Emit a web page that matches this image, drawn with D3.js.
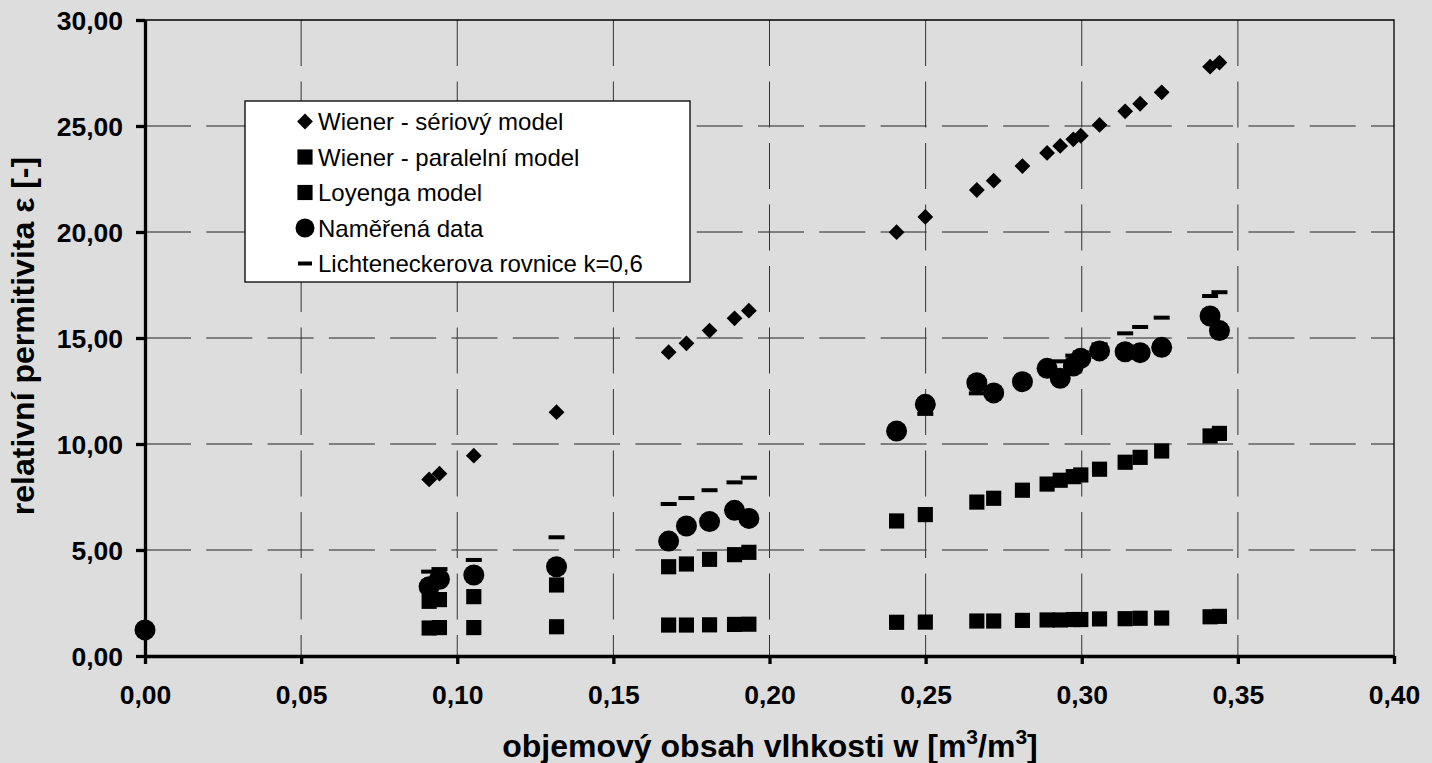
<!DOCTYPE html>
<html>
<head>
<meta charset="utf-8">
<script src="https://cdn.jsdelivr.net/npm/d3@7"></script>
<style>
  body { margin: 0; background: #dddddd; }
  svg { display: block; font-family: Arial, "Liberation Sans", sans-serif; }
</style>
</head>
<body>
<div id="chart"></div>
<script>
// moisture content w [m3/m3], shared by all series
const moisture = [0, 0.0910, 0.0943, 0.1053, 0.1318, 0.1677, 0.1734, 0.1808, 0.1888, 0.1934,
    0.2407, 0.2499, 0.2664, 0.2718, 0.2810, 0.2889, 0.2931, 0.2973, 0.2997, 0.3057,
    0.3139, 0.3187, 0.3256, 0.3411, 0.3441];

const wienerSerial = [null, 8.33, 8.60, 9.45, 11.50, 14.33, 14.75, 15.35, 15.93, 16.29,
    19.99, 20.71, 21.98, 22.42, 23.11, 23.73, 24.06, 24.37, 24.54, 25.05,
    25.69, 26.05, 26.59, 27.80, 27.99];

const wienerParallel = [null, 1.32, 1.34, 1.34, 1.38, 1.46, 1.46, 1.47, 1.49, 1.50,
    1.59, 1.60, 1.65, 1.65, 1.68, 1.70, 1.70, 1.72, 1.72, 1.75,
    1.76, 1.78, 1.79, 1.85, 1.87];

const loyenga = [null, 2.58, 2.66, 2.80, 3.35, 4.21, 4.34, 4.56, 4.78, 4.89,
    6.37, 6.67, 7.26, 7.44, 7.82, 8.11, 8.29, 8.46, 8.54, 8.81,
    9.14, 9.37, 9.67, 10.38, 10.50];

const measured = [1.23, 3.27, 3.62, 3.82, 4.21, 5.42, 6.13, 6.34, 6.87, 6.49,
    10.61, 11.87, 12.89, 12.41, 12.94, 13.57, 13.10, 13.68, 14.04, 14.39,
    14.35, 14.31, 14.56, 16.04, 15.35];

const lichtenecker = [null, 3.98, 4.10, 4.53, 5.60, 7.17, 7.45, 7.82, 8.19, 8.41,
    10.85, 11.42, 12.39, 12.62, 13.15, 13.64, 13.90, 14.17, 14.32, 14.70,
    15.22, 15.52, 15.96, 16.98, 17.16];

const seriesNames = ["Wiener - sériový model", "Wiener - paralelní model", "Loyenga model",
    "Naměřená data", "Lichteneckerova rovnice k=0,6"];

const xTicks = [0, 0.05, 0.10, 0.15, 0.20, 0.25, 0.30, 0.35, 0.40];
const xTickLabels = ["0,00", "0,05", "0,10", "0,15", "0,20", "0,25", "0,30", "0,35", "0,40"];
const yTicks = [0, 5, 10, 15, 20, 25, 30];
const yTickLabels = ["0,00", "5,00", "10,00", "15,00", "20,00", "25,00", "30,00"];

const width = 1432;
const height = 763;

const svg = d3.select('#chart')
    .append('svg')
    .attr('width', width)
    .attr('height', height);

svg.append('rect')
    .attr('width', width)
    .attr('height', height)
    .attr('fill', '#dddddd');

const x = d3.scaleLinear().domain([0, 0.4]).range([145, 1394]);
const y = d3.scaleLinear().domain([0, 30]).range([656, 20]);

// grid lines (dashed)
const grid = svg.append('g');
grid.selectAll('.hgrid')
    .data(yTicks.slice(1, -1))
    .enter()
    .append('line')
    .attr('x1', x(0)).attr('x2', x(0.4))
    .attr('y1', d => y(d)).attr('y2', d => y(d))
    .attr('stroke', '#222')
    .attr('stroke-width', 1)
    .attr('stroke-dasharray', '46,15.3');

grid.selectAll('.vgrid')
    .data(xTicks.slice(1, -1))
    .enter()
    .append('line')
    .attr('x1', d => x(d)).attr('x2', d => x(d))
    .attr('y1', y(30)).attr('y2', y(0))
    .attr('stroke', '#333')
    .attr('stroke-width', 1)
    .attr('stroke-dasharray', '46,15.5');

// plot border top / right
svg.append('path')
    .attr('d', `M${x(0)},${y(30)}H${x(0.4)}V${y(0)}`)
    .attr('fill', 'none')
    .attr('stroke', '#000')
    .attr('stroke-width', 1.3);

// markers
const diamond = d3.symbol(d3.symbolSquare, 125);
const square = d3.symbol(d3.symbolSquare, 230);

function points(values) {
    return moisture.map((w, i) => ({ w, v: values[i] })).filter(d => d.v != null);
}

const marks = svg.append('g');

marks.selectAll('.ser')
    .data(points(wienerSerial))
    .enter()
    .append('path')
    .attr('d', diamond)
    .attr('transform', d => `translate(${x(d.w)},${y(d.v)}) rotate(45)`)
    .attr('fill', '#000');

marks.selectAll('.par')
    .data(points(wienerParallel))
    .enter()
    .append('path')
    .attr('d', square)
    .attr('transform', d => `translate(${x(d.w)},${y(d.v)})`)
    .attr('fill', '#000');

marks.selectAll('.loy')
    .data(points(loyenga))
    .enter()
    .append('path')
    .attr('d', square)
    .attr('transform', d => `translate(${x(d.w)},${y(d.v)})`)
    .attr('fill', '#000');

marks.selectAll('.mea')
    .data(points(measured))
    .enter()
    .append('circle')
    .attr('cx', d => x(d.w))
    .attr('cy', d => y(d.v))
    .attr('r', 10.5)
    .attr('fill', '#000');

marks.selectAll('.lic')
    .data(points(lichtenecker))
    .enter()
    .append('rect')
    .attr('x', d => x(d.w) - 8)
    .attr('y', d => y(d.v) - 2)
    .attr('width', 16)
    .attr('height', 4)
    .attr('fill', '#000');

// axes
const yAxis = d3.axisLeft(y)
    .tickValues(yTicks)
    .tickSize(9)
    .tickSizeOuter(0)
    .tickPadding(13)
    .tickFormat((d, i) => yTickLabels[i]);

const xAxis = d3.axisBottom(x)
    .tickValues(xTicks)
    .tickSize(8)
    .tickSizeOuter(0)
    .tickPadding(21)
    .tickFormat((d, i) => xTickLabels[i]);

const gy = svg.append('g')
    .attr('transform', `translate(${x(0)},0)`)
    .call(yAxis);

const gx = svg.append('g')
    .attr('transform', `translate(0,${y(0)})`)
    .call(xAxis);

[gx, gy].forEach(g => {
    g.select('.domain').attr('stroke', '#000').attr('stroke-width', 3.3);
    g.selectAll('.tick line').attr('stroke', '#000').attr('stroke-width', 3.3);
    g.selectAll('.tick text')
        .attr('fill', '#000')
        .style('font-size', '26.5px')
        .style('font-weight', 'bold')
        .style('font-family', 'Arial, "Liberation Sans", sans-serif');
});
gy.selectAll('.tick text').attr('dy', '0.36em');

// axis titles
const xTitle = svg.append('text')
    .attr('x', 770)
    .attr('y', 757)
    .attr('text-anchor', 'middle')
    .style('font-size', '32px')
    .style('font-weight', 'bold');
xTitle.append('tspan').text('objemový obsah vlhkosti w [m');
xTitle.append('tspan').attr('dy', -13).style('font-size', '21px').text('3');
xTitle.append('tspan').attr('dy', 13).text('/m');
xTitle.append('tspan').attr('dy', -13).style('font-size', '21px').text('3');
xTitle.append('tspan').attr('dy', 13).text(']');

svg.append('text')
    .attr('transform', 'translate(34,336) rotate(-90)')
    .attr('text-anchor', 'middle')
    .style('font-size', '32px')
    .style('font-weight', 'bold')
    .text('relativní permitivita ε [-]');

// legend
const legendGroup = svg.append('g');
legendGroup.append('rect')
    .attr('x', 245)
    .attr('y', 101)
    .attr('width', 445)
    .attr('height', 181)
    .attr('fill', '#fff')
    .attr('stroke', '#000')
    .attr('stroke-width', 1.3);

const legend = legendGroup.selectAll('.legend')
    .data(seriesNames)
    .enter()
    .append('g')
    .attr('class', 'legend')
    .attr('transform', (d, i) => `translate(305, ${121.5 + i * 35.5})`);

legend.each(function (d, i) {
    const g = d3.select(this);
    if (i === 0) {
        g.append('path').attr('d', diamond).attr('transform', 'rotate(45)').attr('fill', '#000');
    } else if (i === 1 || i === 2) {
        g.append('path').attr('d', square).attr('fill', '#000');
    } else if (i === 3) {
        g.append('circle').attr('r', 9.5).attr('fill', '#000');
    } else {
        g.append('rect').attr('x', -7).attr('y', -2).attr('width', 14).attr('height', 4).attr('fill', '#000');
    }
});

legend.append('text')
    .attr('x', 13)
    .attr('y', 8.5)
    .style('font-size', '24px')
    .text(d => d);
</script>
</body>
</html>
